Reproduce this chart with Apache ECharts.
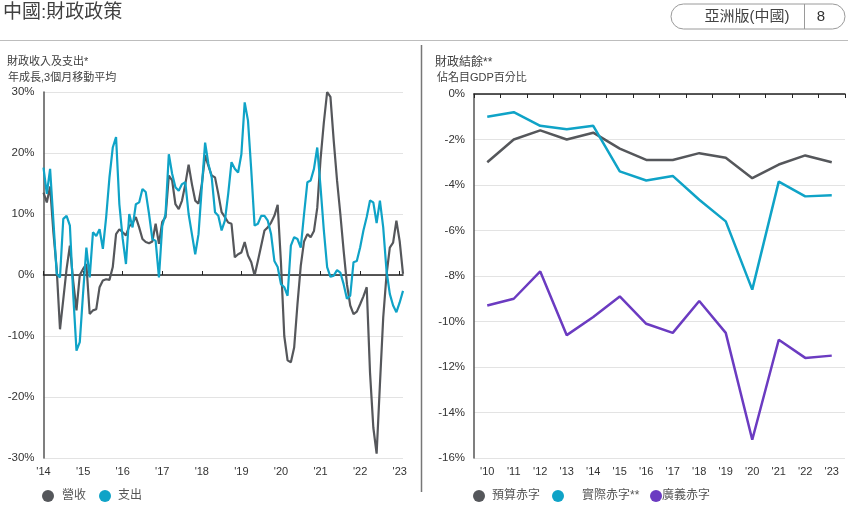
<!DOCTYPE html>
<html>
<head>
<meta charset="utf-8">
<script src="https://cdn.jsdelivr.net/npm/echarts@6/dist/echarts.min.js"></script>
<style>
html,body{margin:0;padding:0;background:#fff;}
#chart{width:848px;height:506px;}
</style>
</head>
<body>
<div id="chart"></div>
<script>
// ---- Left chart data (monthly, Jan 2014 – Feb 2023), YoY %, 3m moving avg ----
var yearLabels = ["'14","'15","'16","'17","'18","'19","'20","'21","'22","'23"];
var revenue = [13.5,11.9,14.5,7,1,-8.9,-4,1,4.8,-1,-5.8,0,1,1.8,-6.4,-5.8,-5.6,-2,-0.9,-0.7,
  -0.8,1.3,6.7,7.5,7,6.5,8,8.5,9.5,7.8,5.9,5.4,5.2,5.5,8.4,5.1,8.7,9.5,16.3,15.5,
  11.6,10.8,12.2,14.9,18.1,14.9,12.2,11.7,14.9,19.6,17.9,16.3,16,13.3,10.3,9.5,8.6,8.4,2.9,3.4,
  3.7,5.4,3.2,2.1,-0.1,2.3,4.8,7.3,7.8,8.6,9.7,11.5,2,-10,-14,-14.3,-11.9,-4.8,1.5,5.5,
  6.7,6.2,7.2,11,19,25,30,29.2,22,15.5,10,4,-1.5,-5,-6.4,-6,-4.8,-3.5,-2,-16,
  -25,-29.3,-18,-7,0,4.5,5.3,8.9,5.5,0.2];
var expenditure = [17.6,13.3,17.4,8.9,0.2,-0.4,9.2,9.7,8.1,-3.1,-12.4,-11,-3,4.5,-0.4,7,6.4,7.5,4.3,9.5,
  16,20.9,22.6,11.6,6,1.8,10,7.8,11.6,11.9,14.1,13.6,10,5.9,5.6,-0.4,8,10,19.8,16.6,
  14.4,13.8,14.9,15.2,10,6.7,3.4,6.7,14.4,21.7,18.2,16,10.3,9.7,7.3,8.9,13.3,18.5,17.4,16.8,
  19.8,28.3,25.3,17.1,8.1,8.4,9.7,9.7,8.9,6.7,2.3,1.3,-1.5,-2,-3.4,4.8,6.2,5.9,4.5,10,
  15.2,15.5,17.4,20.9,14.4,7.3,1.3,-0.3,-0.1,0.8,0.4,-1.5,-3.9,-3.4,2.1,2.3,4.5,7.3,9.5,12.2,
  11.9,8.5,12.2,7.8,0.7,-3.1,-5,-6.1,-4.5,-2.6];

// ---- Right chart data (annual), % of nominal GDP ----
var years = ["'10","'11","'12","'13","'14","'15","'16","'17","'18","'19","'20","'21","'22","'23"];
var budgetDeficit = [-3.0,-2.0,-1.6,-2.0,-1.7,-2.4,-2.9,-2.9,-2.6,-2.8,-3.7,-3.1,-2.7,-3.0];
var actualDeficit = [-1.0,-0.8,-1.4,-1.55,-1.4,-3.4,-3.8,-3.6,-4.65,-5.6,-8.6,-3.85,-4.5,-4.45];
var augmentedDeficit = [-9.3,-9.0,-7.8,-10.6,-9.8,-8.9,-10.1,-10.5,-9.1,-10.5,-15.2,-10.8,-11.6,-11.5];

// month categories (label only at January)
var months = [];
for (var i = 0; i < revenue.length; i++) {
  months.push(i % 12 === 0 ? yearLabels[i / 12] : '');
}

var FONT = "'Liberation Sans', 'Noto Sans CJK TC', sans-serif";
var GRAY = '#55575b', BLUE = '#0fa3c7', PURPLE = '#6b3bc1';
var TXT = '#333333';

var chart = echarts.init(document.getElementById('chart'), null, {renderer: 'canvas'});

function legendItem(name, left, pad) {
  return {
    data: [name], left: left, top: 490, padding: 0,
    icon: 'circle', itemWidth: 12, itemHeight: 12,
    textStyle: {color: '#555', fontSize: 12, fontFamily: FONT, padding: [0,0,0,pad]},
    selectedMode: false
  };
}

var option = {
  animation: false,
  backgroundColor: '#fff',
  textStyle: {fontFamily: FONT},
  legend: [
    legendItem('營收', 42, 3),
    legendItem('支出', 99, 2),
    legendItem('預算赤字', 473, 2),
    legendItem('實際赤字**', 552, 13),
    legendItem('廣義赤字', 650, -5)
  ],
  grid: [
    {left: 43.5, right: 445, top: 92, bottom: 48},
    {left: 474, right: 3, top: 94, bottom: 48}
  ],
  xAxis: [
    {
      type: 'category', gridIndex: 0, data: months, boundaryGap: false,
      position: 'bottom',
      axisLine: {show: false, onZero: false}, axisTick: {show: false},
      axisLabel: {interval: 11, color: TXT, fontSize: 11, margin: 8, fontFamily: FONT}
    },
    {
      type: 'category', gridIndex: 0, data: months, boundaryGap: false,
      axisLine: {show: true, onZero: true, lineStyle: {color: '#222', width: 1.5}},
      axisTick: {show: true, interval: 11, length: 4, lineStyle: {color: '#222'}},
      axisLabel: {show: false}
    },
    {
      type: 'category', gridIndex: 1, data: years, boundaryGap: true,
      position: 'bottom',
      axisLine: {show: false, onZero: false}, axisTick: {show: false},
      axisLabel: {interval: 0, color: TXT, fontSize: 11, margin: 8, fontFamily: FONT}
    },
    {
      type: 'category', gridIndex: 1, data: years, boundaryGap: true,
      position: 'top',
      axisLine: {show: true, onZero: false, lineStyle: {color: '#222', width: 1.5}},
      axisTick: {show: true, inside: true, length: 4, lineStyle: {color: '#222'}},
      axisLabel: {show: false}
    }
  ],
  yAxis: [
    {
      type: 'value', gridIndex: 0, min: -30, max: 30, interval: 10,
      axisLine: {show: true, lineStyle: {color: '#555', width: 1.5}},
      axisTick: {show: false},
      axisLabel: {formatter: '{value}%', color: TXT, fontSize: 11.5, margin: 9, fontFamily: FONT},
      splitLine: {show: true, lineStyle: {color: '#e3e3e3', width: 1}}
    },
    {
      type: 'value', gridIndex: 1, min: -16, max: 0, interval: 2,
      axisLine: {show: true, lineStyle: {color: '#555', width: 1.5}},
      axisTick: {show: false},
      axisLabel: {formatter: '{value}%', color: TXT, fontSize: 11.5, margin: 9, fontFamily: FONT},
      splitLine: {show: true, lineStyle: {color: '#e3e3e3', width: 1}}
    }
  ],
  series: [
    {name: '營收', type: 'line', xAxisIndex: 0, yAxisIndex: 0, data: revenue,
     showSymbol: false, symbol: 'none', lineStyle: {color: GRAY, width: 2.2}, itemStyle: {color: GRAY}},
    {name: '支出', type: 'line', xAxisIndex: 0, yAxisIndex: 0, data: expenditure,
     showSymbol: false, symbol: 'none', lineStyle: {color: BLUE, width: 2.2}, itemStyle: {color: BLUE}},
    {name: '預算赤字', type: 'line', xAxisIndex: 2, yAxisIndex: 1, data: budgetDeficit,
     showSymbol: false, symbol: 'none', lineStyle: {color: GRAY, width: 2.5}, itemStyle: {color: GRAY}},
    {name: '實際赤字**', type: 'line', xAxisIndex: 2, yAxisIndex: 1, data: actualDeficit,
     showSymbol: false, symbol: 'none', lineStyle: {color: BLUE, width: 2.5}, itemStyle: {color: BLUE}},
    {name: '廣義赤字', type: 'line', xAxisIndex: 2, yAxisIndex: 1, data: augmentedDeficit,
     showSymbol: false, symbol: 'none', lineStyle: {color: PURPLE, width: 2.5}, itemStyle: {color: PURPLE}}
  ],
  graphic: [
    {type: 'text', left: 3, top: 3, style: {text: '中國:財政政策', fontSize: 19, fill: '#404040', fontFamily: FONT}},
    {type: 'line', shape: {x1: 0, y1: 40.5, x2: 848, y2: 40.5}, style: {stroke: '#bdbdbd', lineWidth: 1}},
    {type: 'rect', shape: {x: 671, y: 4, width: 174, height: 25, r: 12.5}, style: {fill: 'none', stroke: '#9a9a9a', lineWidth: 1}},
    {type: 'line', shape: {x1: 804.5, y1: 4, x2: 804.5, y2: 29}, style: {stroke: '#9a9a9a', lineWidth: 1}},
    {type: 'text', x: 747, y: 16.5, style: {text: '亞洲版(中國)', fontSize: 15, fill: '#444', fontFamily: FONT, align: 'center', verticalAlign: 'middle'}},
    {type: 'text', x: 821, y: 16.5, style: {text: '8', fontSize: 15, fill: '#333', fontFamily: FONT, align: 'center', verticalAlign: 'middle'}},
    {type: 'line', shape: {x1: 421.5, y1: 45, x2: 421.5, y2: 492}, style: {stroke: '#777', lineWidth: 1.5}},
    {type: 'text', x: 7, y: 62, style: {text: '財政收入及支出*', fontSize: 11, fill: '#404040', fontFamily: FONT, verticalAlign: 'middle'}},
    {type: 'text', x: 8, y: 78, style: {text: '年成長,3個月移動平均', fontSize: 11, fill: '#404040', fontFamily: FONT, verticalAlign: 'middle'}},
    {type: 'text', x: 435, y: 63, style: {text: '財政結餘**', fontSize: 12, fill: '#404040', fontFamily: FONT, verticalAlign: 'middle'}},
    {type: 'text', x: 437, y: 78, style: {text: '佔名目GDP百分比', fontSize: 11, fill: '#404040', fontFamily: FONT, verticalAlign: 'middle'}}
  ]
};
chart.setOption(option);
</script>
</body>
</html>
